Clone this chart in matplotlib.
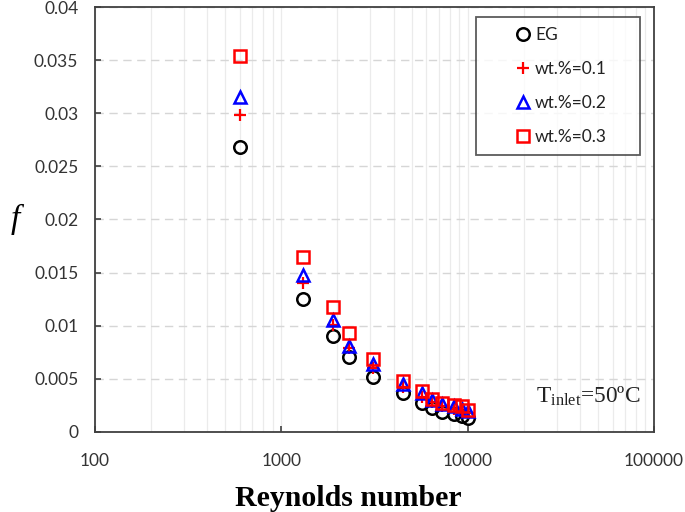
import matplotlib
matplotlib.use("Agg")
import matplotlib.pyplot as plt
from matplotlib.ticker import LogLocator, FixedLocator, NullFormatter

# -------------- DATA ---------------------------------------
reynolds = [600, 1300, 1900, 2300, 3100, 4500, 5700, 6400, 7300, 8400, 9300, 10000]
f_eg   = [0.0268, 0.0125, 0.0090, 0.0071, 0.0052, 0.0037, 0.0027, 0.0023, 0.0019, 0.0017, 0.0015, 0.0013]
f_wt01 = [0.0298, 0.0140, 0.0101, 0.0079, 0.0060, 0.0042, 0.0033, 0.0028, 0.0024, 0.0022, 0.0020, 0.0018]
f_wt02 = [0.0315, 0.0148, 0.0105, 0.0081, 0.0064, 0.0045, 0.0037, 0.0030, 0.0026, 0.0024, 0.0022, 0.0020]
f_wt03 = [0.0354, 0.0165, 0.0118, 0.0093, 0.0069, 0.0048, 0.0039, 0.0031, 0.0027, 0.0025, 0.0024, 0.0021]
y_ticks = [0, 0.005, 0.01, 0.015, 0.02, 0.025, 0.03, 0.035, 0.04]
y_tick_labels = ["0", "0.005", "0.01", "0.015", "0.02", "0.025", "0.03", "0.035", "0.04"]
x_ticks = [100, 1000, 10000, 100000]
x_tick_labels = ["100", "1000", "10000", "100000"]
# -----------------------------------------------------------

fig = plt.figure(figsize=(6.85, 5.12), dpi=100)
ax = fig.add_axes([0.1387, 0.1563, 0.816, 0.830])

ax.plot(reynolds, f_eg, ls="none", marker="o", ms=9, mfc="none", mec="black",
        mew=1.8, label="EG")
ax.plot(reynolds, f_wt01, ls="none", marker="+", ms=8, mec="red",
        mew=1.6, label="wt.%=0.1")
ax.plot(reynolds, f_wt02, ls="none", marker="^", ms=8.5, mfc="none", mec="blue",
        mew=1.8, label="wt.%=0.2")
ax.plot(reynolds, f_wt03, ls="none", marker="s", ms=9, mfc="none", mec="red",
        mew=1.8, label="wt.%=0.3")

ax.set_xscale("log")
ax.set_xlim(100, 100000)
ax.set_ylim(0, 0.04)

ax.xaxis.set_major_locator(FixedLocator(x_ticks))
ax.set_xticklabels(x_tick_labels)
ax.xaxis.set_minor_locator(LogLocator(base=10, subs=range(2, 10)))
ax.xaxis.set_minor_formatter(NullFormatter())
ax.set_yticks(y_ticks)
ax.set_yticklabels(y_tick_labels)

for lbl in ax.get_xticklabels() + ax.get_yticklabels():
    lbl.set_fontfamily("Lato")
    lbl.set_fontsize(12.5)
    lbl.set_color("#333333")

ax.tick_params(axis="both", which="major", direction="in", length=4, width=1.2,
               color="#404040")
ax.tick_params(axis="y", which="major", pad=12)
ax.tick_params(axis="x", which="minor", length=0)
ax.tick_params(axis="x", which="major", pad=15)

# grid: light solid verticals, dashed horizontals
ax.grid(True, axis="x", which="both", color="#ebebeb", linewidth=0.9)
ax.grid(True, axis="y", which="major", color="#d6d6d6", linestyle=(0, (6, 4)),
        linewidth=1.0)
ax.set_axisbelow(True)

for sp in ax.spines.values():
    sp.set_linewidth(1.3)
    sp.set_color("#404040")

ax.set_xlabel("Reynolds number", fontfamily="Liberation Serif", fontweight="bold",
              fontsize=21.5, va="center", ha="center")
ax.xaxis.set_label_coords(0.454, -0.157)
ax.set_ylabel("f", fontfamily="Liberation Serif", fontstyle="italic",
              fontsize=24, rotation=0, va="center", ha="center")
ax.yaxis.set_label_coords(-0.143, 0.50)

ax.text(0.975, 0.085, r"T$_{\mathregular{inlet}}$=50ºC", transform=ax.transAxes,
        ha="right", va="center", fontfamily="Liberation Serif", fontsize=16.8,
        color="#222222")

leg = ax.legend(loc="upper left", bbox_to_anchor=(0.6816, 0.7765, 0.2934, 0.2),
                mode="expand", prop={"family": "Lato", "size": 12.5},
                frameon=True, fancybox=False, edgecolor="#333333",
                labelspacing=1.03, handletextpad=-1.45, borderpad=0.6,
                handlelength=4.25, borderaxespad=0)
leg.get_frame().set_linewidth(1.3)
for t in leg.get_texts():
    t.set_color("#222222")

fig.savefig("out.png", dpi=100)
